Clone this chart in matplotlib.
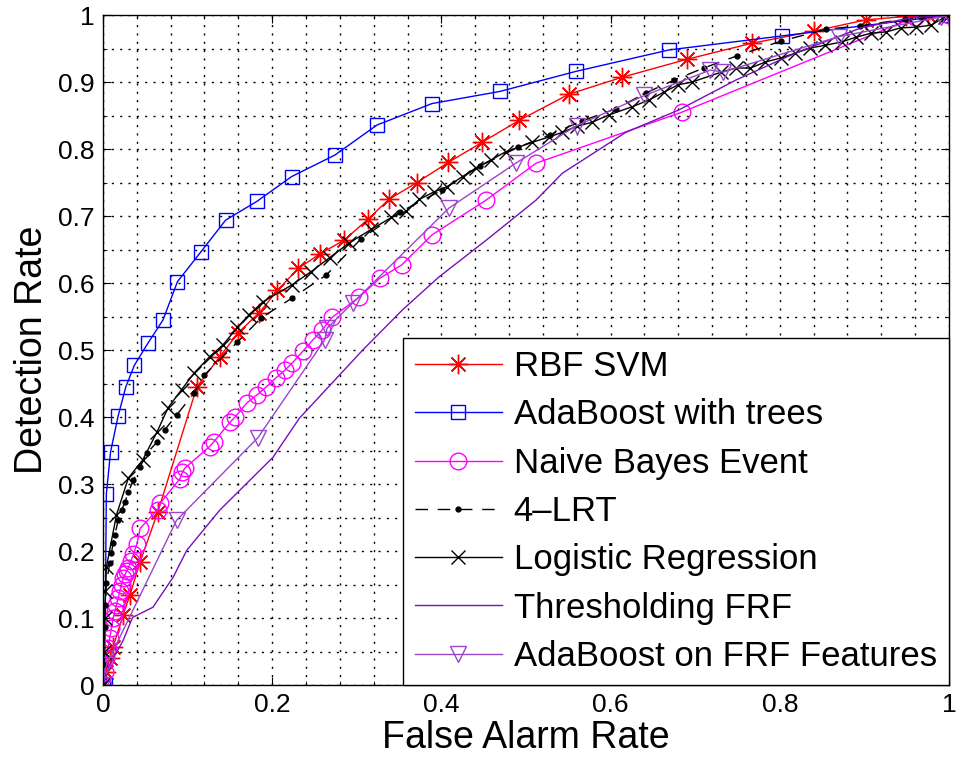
import numpy as np
import matplotlib
matplotlib.use("Agg")
import matplotlib.pyplot as plt
from matplotlib.ticker import MultipleLocator

# ROC curves (false alarm rate, detection rate)
rbf_fa = [0.0, 0.004, 0.008, 0.012, 0.024, 0.032, 0.044, 0.065, 0.111, 0.138,
          0.160, 0.185, 0.206, 0.231, 0.257, 0.285, 0.313, 0.338, 0.371, 0.408,
          0.448, 0.492, 0.551, 0.613, 0.690, 0.767, 0.840, 0.902, 0.949, 0.975, 1.0]
rbf_dr = [0.0, 0.02, 0.04, 0.057, 0.105, 0.135, 0.184, 0.259, 0.445, 0.490,
          0.526, 0.556, 0.589, 0.622, 0.644, 0.664, 0.695, 0.725, 0.750, 0.780,
          0.810, 0.843, 0.882, 0.907, 0.934, 0.958, 0.976, 0.993, 0.998, 1.0, 1.0]

ada_fa = [0.0, 0.002, 0.004, 0.009, 0.018, 0.027, 0.037, 0.053, 0.071, 0.088,
          0.116, 0.145, 0.182, 0.223, 0.274, 0.324, 0.389, 0.469, 0.559, 0.669,
          0.803, 1.0]
ada_dr = [0.0, 0.0, 0.285, 0.348, 0.402, 0.445, 0.477, 0.510, 0.545, 0.602,
          0.647, 0.694, 0.722, 0.759, 0.791, 0.836, 0.868, 0.886, 0.916, 0.948,
          0.969, 1.0]

nb_fa = [0.0, 0.002, 0.004, 0.006, 0.008, 0.010, 0.012, 0.014, 0.016, 0.018,
         0.020, 0.022, 0.024, 0.026, 0.028, 0.030, 0.033, 0.036, 0.040, 0.044,
         0.065, 0.068, 0.091, 0.094, 0.097, 0.126, 0.131, 0.150, 0.156, 0.170,
         0.182, 0.193, 0.204, 0.215, 0.224, 0.236, 0.248, 0.259, 0.271, 0.303,
         0.327, 0.353, 0.389, 0.453, 0.512, 0.684, 0.960, 1.0]
nb_dr = [0.0, 0.02, 0.04, 0.055, 0.07, 0.085, 0.10, 0.11, 0.12, 0.13,
         0.14, 0.15, 0.16, 0.165, 0.17, 0.175, 0.185, 0.195, 0.21, 0.234,
         0.262, 0.272, 0.308, 0.318, 0.324, 0.356, 0.363, 0.392, 0.400, 0.421,
         0.433, 0.445, 0.458, 0.470, 0.481, 0.498, 0.515, 0.530, 0.549, 0.579,
         0.607, 0.627, 0.672, 0.724, 0.779, 0.855, 0.997, 1.0]

lrt_fa = [0.0, 0.001, 0.002, 0.003, 0.004, 0.008, 0.010, 0.012, 0.014, 0.018,
          0.022, 0.026, 0.030, 0.036, 0.044, 0.052, 0.064, 0.073, 0.087, 0.108,
          0.120, 0.159, 0.187, 0.224, 0.264, 0.305, 0.351, 0.401, 0.446, 0.491,
          0.528, 0.566, 0.606, 0.642, 0.675, 0.710, 0.749, 0.801, 0.855, 0.895,
          0.948, 0.967, 1.0]
lrt_dr = [0.0, 0.03, 0.087, 0.12, 0.152, 0.182, 0.197, 0.212, 0.224, 0.246,
          0.261, 0.273, 0.288, 0.306, 0.326, 0.346, 0.363, 0.381, 0.403, 0.436,
          0.463, 0.512, 0.548, 0.578, 0.612, 0.666, 0.706, 0.739, 0.775, 0.803,
          0.821, 0.842, 0.860, 0.884, 0.903, 0.921, 0.939, 0.961, 0.979, 0.984,
          0.994, 0.997, 1.0]

lr_fa = [0.0, 0.001, 0.002, 0.003, 0.004, 0.016, 0.030, 0.047, 0.064, 0.077,
         0.093, 0.108, 0.126, 0.142, 0.159, 0.173, 0.189, 0.223, 0.246, 0.268,
         0.291, 0.317, 0.341, 0.358, 0.374, 0.391, 0.407, 0.425, 0.441, 0.459,
         0.476, 0.507, 0.527, 0.543, 0.560, 0.578, 0.598, 0.625, 0.645, 0.663,
         0.680, 0.696, 0.731, 0.748, 0.765, 0.783, 0.801, 0.818, 0.836, 0.854,
         0.873, 0.890, 0.908, 0.926, 0.943, 0.961, 0.979, 0.995, 1.0]
lr_dr = [0.0, 0.05, 0.10, 0.14, 0.176, 0.254, 0.309, 0.336, 0.378, 0.414,
         0.441, 0.466, 0.490, 0.508, 0.534, 0.553, 0.572, 0.597, 0.617, 0.638,
         0.660, 0.680, 0.698, 0.707, 0.725, 0.736, 0.744, 0.759, 0.772, 0.784,
         0.796, 0.810, 0.818, 0.825, 0.834, 0.840, 0.851, 0.863, 0.873, 0.885,
         0.896, 0.900, 0.915, 0.921, 0.921, 0.930, 0.936, 0.943, 0.951, 0.955,
         0.960, 0.967, 0.973, 0.975, 0.981, 0.982, 0.985, 0.997, 1.0]

thr_fa = [0.0, 0.008, 0.024, 0.035, 0.059, 0.083, 0.099, 0.138, 0.201, 0.232,
          0.307, 0.354, 0.397, 0.454, 0.512, 0.543, 0.618, 0.680, 0.748, 0.818,
          0.896, 0.955, 1.0]
thr_dr = [0.0, 0.03, 0.067, 0.101, 0.116, 0.161, 0.201, 0.261, 0.340, 0.398,
          0.500, 0.560, 0.609, 0.665, 0.724, 0.764, 0.825, 0.858, 0.903, 0.943,
          0.981, 0.996, 1.0]

afrf_fa = [0.0, 0.004, 0.087, 0.183, 0.262, 0.265, 0.295, 0.409, 0.488, 0.560,
           0.640, 0.718, 0.733, 0.870, 0.990, 1.0]
afrf_dr = [0.0, 0.03, 0.246, 0.369, 0.515, 0.533, 0.570, 0.712, 0.779, 0.835,
           0.880, 0.918, 0.915, 0.968, 0.997, 1.0]

labels = ["RBF SVM", "AdaBoost with trees", "Naive Bayes Event", "4\u2013LRT",
          "Logistic Regression", "Thresholding FRF", "AdaBoost on FRF Features"]

x_ticks = [0, 0.2, 0.4, 0.6, 0.8, 1]
x_tick_labels = ["0", "0.2", "0.4", "0.6", "0.8", "1"]
y_ticks = [0, 0.1, 0.2, 0.3, 0.4, 0.5, 0.6, 0.7, 0.8, 0.9, 1]
y_tick_labels = ["0", "0.1", "0.2", "0.3", "0.4", "0.5", "0.6", "0.7", "0.8", "0.9", "1"]

plt.rcParams["font.family"] = ["Liberation Sans", "DejaVu Sans"]

fig = plt.figure(figsize=(9.56, 7.63), dpi=100)
ax = fig.add_axes([0.1077, 0.1022, 0.885, 0.878])

ax.plot(rbf_fa, rbf_dr, "-", color="#ff0000", lw=1, marker=(8, 2, 0), ms=14, mew=1,
        label=labels[0])
ax.plot(ada_fa, ada_dr, "-", color="#0000ff", lw=1, marker="s", ms=10, mew=1,
        mfc="none", label=labels[1])
ax.plot(nb_fa, nb_dr, "-", color="#ff00ff", lw=1, marker="o", ms=12, mew=1,
        mfc="none", label=labels[2])
ax.plot(lrt_fa, lrt_dr, color="black", lw=1, ls=(0, (9, 7)), marker=".", ms=7,
        label=labels[3])
ax.plot(lr_fa, lr_dr, "-", color="black", lw=1, marker="x", ms=10, mew=1,
        label=labels[4])
ax.plot(thr_fa, thr_dr, "-", color="#7a10b8", lw=1, label=labels[5])
ax.plot(afrf_fa, afrf_dr, "-", color="#9b45cc", lw=1, marker="v", ms=12, mew=1,
        mfc="none", label=labels[6])

ax.set_xlim(0, 1)
ax.set_ylim(0, 1)
ax.set_xticks(x_ticks)
ax.set_xticklabels(x_tick_labels)
ax.set_yticks(y_ticks)
ax.set_yticklabels(y_tick_labels)
ax.xaxis.set_minor_locator(MultipleLocator(0.04))
ax.yaxis.set_minor_locator(MultipleLocator(0.05))
ax.tick_params(which="both", direction="in", top=True, right=True, labelsize=19)
ax.tick_params(which="major", length=6, pad=6)
ax.tick_params(which="minor", length=3)
ax.grid(which="both", color="black", lw=1.0, ls=(0, (1.5, 4.5)))
ax.set_axisbelow(True)
for s in ax.spines.values():
    s.set_linewidth(1)

ax.set_xlabel("False Alarm Rate", fontsize=27, labelpad=2)
ax.set_ylabel("Detection Rate", fontsize=27, labelpad=6)

leg = ax.legend(loc="lower right", fontsize=25, frameon=True, fancybox=False,
                edgecolor="black", framealpha=1, borderaxespad=0,
                handlelength=2.5, labelspacing=0.44, borderpad=0.35,
                handletextpad=0.35)
leg.get_frame().set_linewidth(1)

plt.savefig("out.png", dpi=100)
